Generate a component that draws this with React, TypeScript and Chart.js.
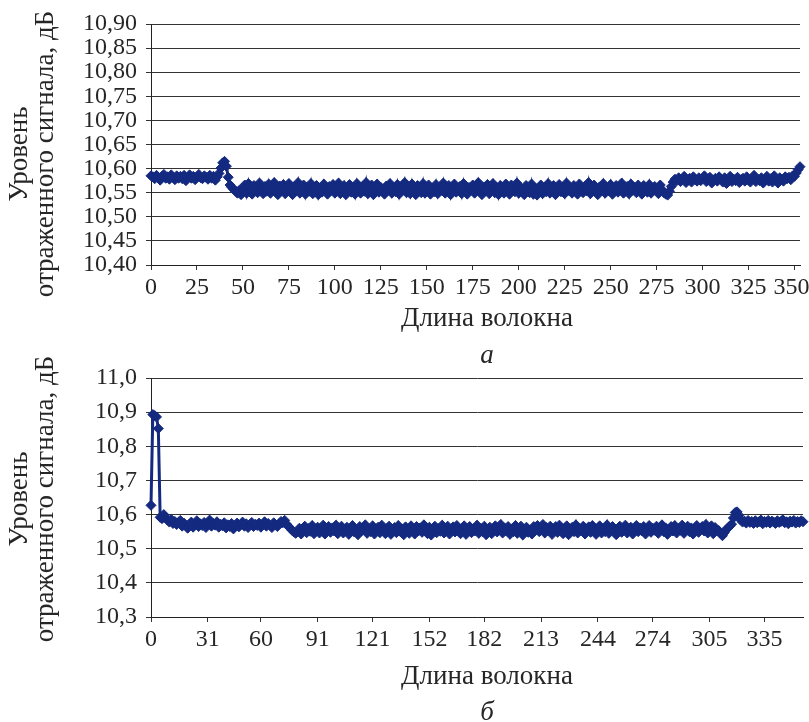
import React, { useEffect, useRef } from 'react';
import { Chart, registerables } from 'chart.js';

Chart.register(...registerables);

// ---------- DATA ----------
const topLevels = [
  10.585, 10.583, 10.579, 10.586, 10.581, 10.576, 10.584, 10.588, 10.580, 10.583,
  10.578, 10.587, 10.582, 10.577, 10.585, 10.580, 10.584, 10.579, 10.586, 10.575,
  10.582, 10.587, 10.580, 10.584, 10.577, 10.583, 10.588, 10.581, 10.579, 10.585,
  10.582, 10.578, 10.586, 10.580, 10.584, 10.576, 10.583, 10.590, 10.601, 10.612,
  10.615, 10.605, 10.582, 10.566, 10.561, 10.557, 10.553, 10.549, 10.555, 10.546,
  10.560, 10.566, 10.549, 10.569, 10.553, 10.547, 10.565, 10.558, 10.550, 10.570,
  10.556, 10.548, 10.563, 10.553, 10.568, 10.549, 10.560, 10.571, 10.551, 10.546,
  10.564, 10.555, 10.567, 10.548, 10.559, 10.569, 10.552, 10.546, 10.563, 10.556,
  10.571, 10.549, 10.558, 10.566, 10.547, 10.562, 10.553, 10.569, 10.548, 10.557,
  10.565, 10.546, 10.560, 10.551, 10.568, 10.555, 10.547, 10.563, 10.556, 10.567,
  10.549, 10.559, 10.570, 10.548, 10.554, 10.565, 10.546, 10.558, 10.567, 10.551,
  10.561, 10.547, 10.569, 10.556, 10.549, 10.563, 10.553, 10.571, 10.548, 10.559,
  10.566, 10.546, 10.557, 10.568, 10.551, 10.561, 10.555, 10.547, 10.564, 10.558,
  10.569, 10.549, 10.560, 10.552, 10.567, 10.547, 10.562, 10.556, 10.571, 10.550,
  10.561, 10.548, 10.568, 10.554, 10.546, 10.565, 10.558, 10.550, 10.569, 10.549,
  10.559, 10.566, 10.547, 10.556, 10.552, 10.567, 10.548, 10.561, 10.555, 10.570,
  10.549, 10.558, 10.565, 10.546, 10.560, 10.568, 10.551, 10.556, 10.563, 10.548,
  10.569, 10.554, 10.547, 10.561, 10.556, 10.566, 10.549, 10.559, 10.571, 10.552,
  10.546, 10.562, 10.556, 10.567, 10.548, 10.558, 10.569, 10.550, 10.561, 10.546,
  10.565, 10.554, 10.549, 10.568, 10.558, 10.547, 10.566, 10.556, 10.552, 10.570,
  10.549, 10.561, 10.555, 10.546, 10.565, 10.558, 10.550, 10.568, 10.547, 10.559,
  10.545, 10.556, 10.566, 10.548, 10.561, 10.552, 10.569, 10.549, 10.558, 10.565,
  10.546, 10.557, 10.567, 10.552, 10.561, 10.548, 10.570, 10.555, 10.559, 10.549,
  10.565, 10.556, 10.547, 10.568, 10.558, 10.550, 10.563, 10.554, 10.571, 10.548,
  10.559, 10.566, 10.552, 10.546, 10.562, 10.556, 10.569, 10.549, 10.561, 10.554,
  10.567, 10.547, 10.558, 10.565, 10.551, 10.559, 10.570, 10.549, 10.556, 10.563,
  10.548, 10.568, 10.555, 10.561, 10.550, 10.566, 10.556, 10.547, 10.565, 10.558,
  10.551, 10.567, 10.549, 10.559, 10.563, 10.555, 10.548, 10.566, 10.556, 10.550,
  10.547, 10.545, 10.553, 10.563, 10.572, 10.578, 10.575, 10.581, 10.573, 10.578,
  10.584, 10.571, 10.576, 10.580, 10.572, 10.583, 10.577, 10.574, 10.581, 10.575,
  10.579, 10.585, 10.573, 10.577, 10.582, 10.570, 10.576, 10.580, 10.574, 10.583,
  10.578, 10.572, 10.581, 10.569, 10.576, 10.584, 10.573, 10.578, 10.575, 10.582,
  10.571, 10.577, 10.580, 10.574, 10.583, 10.576, 10.572, 10.579, 10.586, 10.573,
  10.578, 10.575, 10.581, 10.570, 10.577, 10.584, 10.574, 10.579, 10.572, 10.585,
  10.576, 10.570, 10.581, 10.578, 10.574, 10.583, 10.579, 10.582, 10.577, 10.585,
  10.584, 10.591, 10.598, 10.604,
];

const bottomLevels = [
  10.627, 10.893, 10.890, 10.886, 10.852, 10.592, 10.588, 10.600, 10.591, 10.584,
  10.578, 10.586, 10.574, 10.580, 10.571, 10.577, 10.583, 10.566, 10.575, 10.569,
  10.560, 10.572, 10.578, 10.563, 10.570, 10.582, 10.565, 10.573, 10.568, 10.577,
  10.562, 10.571, 10.584, 10.566, 10.574, 10.569, 10.579, 10.563, 10.572, 10.567,
  10.576, 10.561, 10.570, 10.565, 10.574, 10.558, 10.568, 10.575, 10.564, 10.571,
  10.578, 10.566, 10.573, 10.562, 10.570, 10.577, 10.565, 10.572, 10.568, 10.575,
  10.563, 10.571, 10.579, 10.566, 10.574, 10.569, 10.562, 10.576, 10.570, 10.565,
  10.573, 10.580, 10.576, 10.583, 10.572, 10.566, 10.560, 10.554, 10.549, 10.545,
  10.550, 10.560, 10.543, 10.556, 10.566, 10.547, 10.559, 10.551, 10.568, 10.544,
  10.557, 10.563, 10.546, 10.560, 10.569, 10.543, 10.553, 10.565, 10.548, 10.561,
  10.552, 10.569, 10.544, 10.558, 10.566, 10.546, 10.555, 10.563, 10.542, 10.560,
  10.568, 10.549, 10.557, 10.541, 10.565, 10.553, 10.561, 10.570, 10.545, 10.558,
  10.550, 10.567, 10.543, 10.556, 10.563, 10.547, 10.569, 10.553, 10.544, 10.560,
  10.566, 10.542, 10.555, 10.562, 10.547, 10.568, 10.551, 10.558, 10.541, 10.564,
  10.554, 10.545, 10.567, 10.557, 10.543, 10.565, 10.552, 10.561, 10.548, 10.570,
  10.556, 10.544, 10.563, 10.540, 10.555, 10.566, 10.547, 10.559, 10.551, 10.569,
  10.546, 10.558, 10.566, 10.543, 10.556, 10.564, 10.549, 10.568, 10.553, 10.544,
  10.561, 10.567, 10.542, 10.556, 10.565, 10.547, 10.558, 10.552, 10.569, 10.545,
  10.560, 10.550, 10.566, 10.541, 10.555, 10.563, 10.544, 10.558, 10.567, 10.549,
  10.556, 10.571, 10.546, 10.561, 10.552, 10.565, 10.542, 10.558, 10.550, 10.568,
  10.545, 10.560, 10.566, 10.540, 10.557, 10.563, 10.548, 10.555, 10.543, 10.565,
  10.556, 10.568, 10.550, 10.560, 10.571, 10.546, 10.562, 10.552, 10.566, 10.542,
  10.558, 10.565, 10.548, 10.569, 10.555, 10.544, 10.561, 10.567, 10.541, 10.556,
  10.563, 10.550, 10.570, 10.546, 10.559, 10.552, 10.566, 10.543, 10.557, 10.564,
  10.548, 10.568, 10.555, 10.542, 10.561, 10.567, 10.546, 10.558, 10.550, 10.570,
  10.545, 10.556, 10.565, 10.551, 10.541, 10.559, 10.566, 10.548, 10.557, 10.569,
  10.546, 10.554, 10.563, 10.543, 10.556, 10.568, 10.550, 10.561, 10.552, 10.565,
  10.543, 10.557, 10.568, 10.548, 10.560, 10.554, 10.566, 10.545, 10.556, 10.570,
  10.550, 10.561, 10.542, 10.558, 10.565, 10.552, 10.568, 10.546, 10.559, 10.554,
  10.569, 10.545, 10.557, 10.566, 10.550, 10.561, 10.543, 10.556, 10.568, 10.548,
  10.559, 10.565, 10.552, 10.571, 10.546, 10.557, 10.567, 10.544, 10.562, 10.555,
  10.553, 10.545, 10.538, 10.547, 10.556, 10.561, 10.566, 10.572, 10.590, 10.606,
  10.608, 10.598, 10.584, 10.578, 10.581, 10.575, 10.583, 10.577, 10.580, 10.574,
  10.582, 10.576, 10.579, 10.584, 10.573, 10.580, 10.577, 10.583, 10.575, 10.581,
  10.578, 10.574, 10.582, 10.577, 10.580, 10.585, 10.576, 10.579, 10.573, 10.581,
  10.578, 10.583, 10.575, 10.580, 10.577, 10.582, 10.579,
];

const topXTicks = [0, 25, 50, 75, 100, 125, 150, 175, 200, 225, 250, 275, 300, 325, 350];
const topYTicks = [10.40, 10.45, 10.50, 10.55, 10.60, 10.65, 10.70, 10.75, 10.80, 10.85, 10.90];
const bottomXTicks = [0, 31, 60, 91, 121, 152, 182, 213, 244, 274, 305, 335];
const bottomYTicks = [10.3, 10.4, 10.5, 10.6, 10.7, 10.8, 10.9, 11.0];

const xTitle = 'Длина волокна';
const yTitleLines = ['Уровень', 'отраженного сигнала, дБ'];
const captions = ['а', 'б'];

// ---------- STYLE ----------
const NAVY = '#142a80';
const TEXT = '#262626';
const GRID = '#333333';
const FAMILY = '"Liberation Serif", "Times New Roman", serif';

type Panel = {
  values: number[];
  xTicks: number[];
  yTicks: number[];
  xMax: number;
  decimals: number;
  padTop: number;
  padRight: number;
  xHeight: number;
  titleCy: number;
  xTitleBase: number;
  caption: string;
  captionBase: number;
  shiftLast: boolean;
};

function textPlugin(p: Panel) {
  return {
    id: 'panelText',
    afterDraw(chart: any) {
      const ctx = chart.ctx as CanvasRenderingContext2D;
      ctx.save();
      ctx.fillStyle = TEXT;
      ctx.font = `27px ${FAMILY}`;
      ctx.textAlign = 'center';
      ctx.textBaseline = 'middle';
      const xs = [19.5, 45.5];
      yTitleLines.forEach((line, i) => {
        ctx.save();
        ctx.translate(xs[i], p.titleCy);
        ctx.rotate(-Math.PI / 2);
        ctx.fillText(line, 0, 0);
        ctx.restore();
      });
      ctx.textBaseline = 'alphabetic';
      ctx.fillText(xTitle, 487, p.xTitleBase);
      ctx.font = `italic 27px ${FAMILY}`;
      ctx.fillText(p.caption, 487, p.captionBase);
      ctx.restore();
    },
  };
}

function makeConfig(p: Panel): any {
  const tickFont = { family: FAMILY, size: 24 };
  return {
    type: 'line',
    data: {
      datasets: [
        {
          data: p.values.map((y, i) => ({ x: i, y })),
          borderColor: NAVY,
          backgroundColor: NAVY,
          borderWidth: 3,
          pointStyle: 'rectRot',
          pointRadius: 5,
          pointBorderWidth: 1,
          pointBorderColor: NAVY,
          pointBackgroundColor: NAVY,
          tension: 0,
          clip: false,
        },
      ],
    },
    options: {
      animation: false,
      responsive: false,
      maintainAspectRatio: false,
      events: [],
      layout: { padding: { left: 0, top: p.padTop, right: p.padRight, bottom: 0 } },
      plugins: { legend: { display: false }, tooltip: { enabled: false }, title: { display: false } },
      scales: {
        x: {
          type: 'linear',
          min: 0,
          max: p.xMax,
          afterBuildTicks: (s: any) => {
            s.ticks = p.xTicks.map((v) => ({ value: v }));
          },
          afterFit: (s: any) => {
            s.height = p.xHeight;
            s.paddingLeft = 0;
            s.paddingRight = 0;
          },
          grid: { display: true, drawOnChartArea: false, drawTicks: true, tickLength: 5, color: GRID, lineWidth: 1 },
          border: { display: true, color: '#222', width: 1 },
          ticks: {
            autoSkip: false,
            maxRotation: 0,
            minRotation: 0,
            padding: 3,
            font: tickFont,
            color: TEXT,
            callback: (v: number, i: number, ticks: any[]) =>
              p.shiftLast && i === ticks.length - 1 ? `${v} ` : String(v),
          },
        },
        y: {
          type: 'linear',
          min: p.yTicks[0],
          max: p.yTicks[p.yTicks.length - 1],
          afterBuildTicks: (s: any) => {
            s.ticks = p.yTicks.map((v) => ({ value: v }));
          },
          afterFit: (s: any) => {
            s.width = 151;
            s.paddingTop = 0;
            s.paddingBottom = 0;
          },
          grid: { display: true, drawOnChartArea: true, drawTicks: true, tickLength: 5, color: GRID, lineWidth: 1 },
          border: { display: true, color: '#222', width: 1 },
          ticks: {
            autoSkip: false,
            padding: 9,
            font: tickFont,
            color: TEXT,
            callback: (v: number) => Number(v).toFixed(p.decimals).replace('.', ','),
          },
        },
      },
    },
    plugins: [textPlugin(p)],
  };
}

const topPanel: Panel = {
  values: topLevels,
  xTicks: topXTicks,
  yTicks: topYTicks,
  xMax: 353,
  decimals: 2,
  padTop: 24,
  padRight: 9,
  xHeight: 105,
  titleCy: 154,
  xTitleBase: 326,
  caption: captions[0],
  captionBase: 363,
  shiftLast: true,
};

const bottomPanel: Panel = {
  values: bottomLevels,
  xTicks: bottomXTicks,
  yTicks: bottomYTicks,
  xMax: 356,
  decimals: 1,
  padTop: 38,
  padRight: 0,
  xHeight: 105,
  titleCy: 159,
  xTitleBase: 344,
  caption: captions[1],
  captionBase: 380,
  shiftLast: false,
};

function PanelChart({ panel, top, height }: { panel: Panel; top: number; height: number }) {
  const ref = useRef<HTMLCanvasElement | null>(null);
  useEffect(() => {
    if (!ref.current) return;
    const chart = new Chart(ref.current, makeConfig(panel));
    return () => chart.destroy();
  }, [panel]);
  return (
    <canvas
      ref={ref}
      width={809}
      height={height}
      style={{ position: 'absolute', left: 0, top, width: 809, height, display: 'block' }}
    />
  );
}

export default function App() {
  return (
    <div style={{ position: 'fixed', left: 0, top: 0, width: 809, height: 722, background: '#fff', overflow: 'hidden' }}>
      <PanelChart panel={topPanel} top={0} height={370} />
      <PanelChart panel={bottomPanel} top={340} height={382} />
    </div>
  );
}
